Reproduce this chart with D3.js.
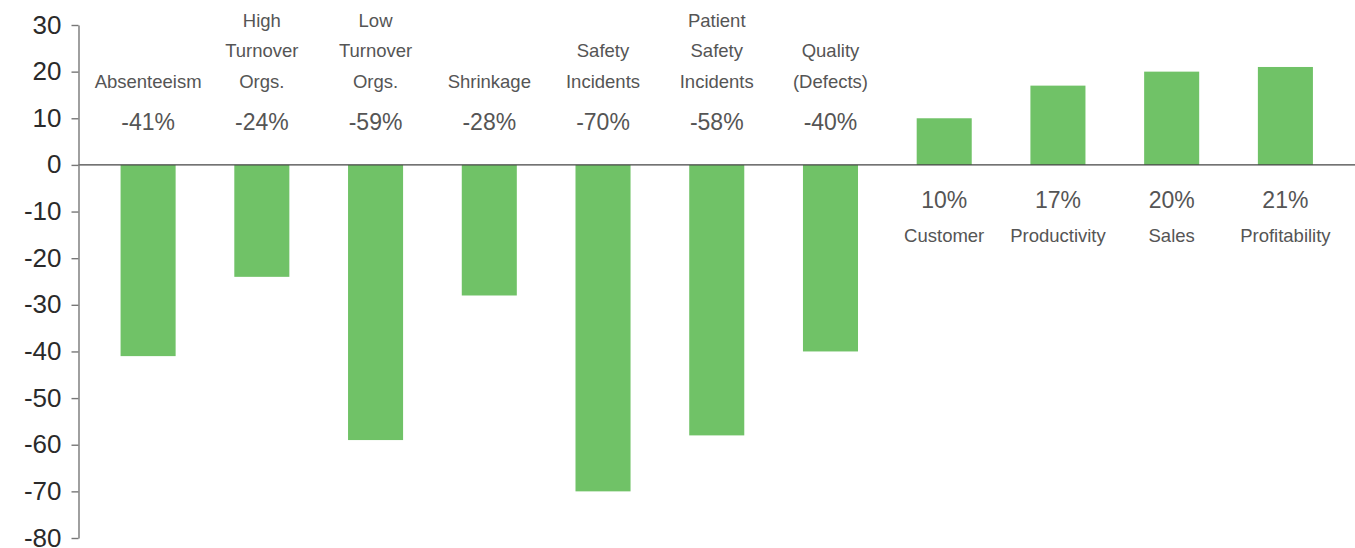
<!DOCTYPE html>
<html>
<head>
<meta charset="utf-8">
<script src="https://cdn.jsdelivr.net/npm/d3@7"></script>
<style>
  body { margin: 0; background: #fff; }
  svg { display: block; font-family: "Liberation Sans", Arial, sans-serif; }
</style>
</head>
<body>
<div id="chart"></div>
<script>
const categories = [
  "Absenteeism",
  "High Turnover Orgs.",
  "Low Turnover Orgs.",
  "Shrinkage",
  "Safety Incidents",
  "Patient Safety Incidents",
  "Quality (Defects)",
  "Customer",
  "Productivity",
  "Sales",
  "Profitability"
];
const labelLines = [
  ["Absenteeism"],
  ["High", "Turnover", "Orgs."],
  ["Low", "Turnover", "Orgs."],
  ["Shrinkage"],
  ["Safety", "Incidents"],
  ["Patient", "Safety", "Incidents"],
  ["Quality", "(Defects)"],
  ["Customer"],
  ["Productivity"],
  ["Sales"],
  ["Profitability"]
];
const values = [-41, -24, -59, -28, -70, -58, -40, 10, 17, 20, 21];
const yTicks = [-80, -70, -60, -50, -40, -30, -20, -10, 0, 10, 20, 30];

const width = 1355;
const height = 548;
const margin = { top: 25, right: 0, bottom: 10, left: 78.5 };

const svg = d3.select("#chart")
  .append("svg")
  .attr("width", width)
  .attr("height", height);

const x = d3.scaleBand()
  .domain(categories)
  .range([margin.left, width - margin.right])
  .paddingInner(0.516)
  .paddingOuter(0.37);

const y = d3.scaleLinear()
  .domain([-80, 30])
  .range([height - margin.bottom, margin.top]);

// bars
svg.append("g")
  .attr("fill", "#70c267")
  .selectAll("rect")
  .data(values)
  .join("rect")
  .attr("x", (d, i) => x(categories[i]))
  .attr("width", x.bandwidth())
  .attr("y", d => y(Math.max(0, d)))
  .attr("height", d => Math.abs(y(d) - y(0)));

// zero line
svg.append("line")
  .attr("x1", margin.left)
  .attr("x2", width)
  .attr("y1", y(0))
  .attr("y2", y(0))
  .attr("stroke", "#444")
  .attr("stroke-width", 1.2);

// y axis (plain hyphen for negatives, like the original)
const yAxis = svg.append("g")
  .attr("transform", `translate(${margin.left},0)`)
  .call(d3.axisLeft(y)
    .tickValues(yTicks)
    .tickFormat(d => String(d))
    .tickSize(7)
    .tickSizeOuter(0)
    .tickPadding(10));
yAxis.select(".domain").attr("stroke", "#777").attr("stroke-width", 1.4);
yAxis.selectAll(".tick line").attr("stroke", "#777").attr("stroke-width", 1.4);
yAxis.selectAll(".tick text")
  .attr("fill", "#2a2a2a")
  .style("font-size", "26px")
  .attr("dy", "0.31em");

// category + percentage labels
const labels = svg.append("g")
  .attr("text-anchor", "middle")
  .attr("fill", "#555");

values.forEach((v, i) => {
  const cx = x(categories[i]) + x.bandwidth() / 2;
  const lines = labelLines[i];
  if (v < 0) {
    labels.append("text")
      .attr("x", cx)
      .attr("y", y(0) - 35)
      .style("font-size", "23px")
      .text(`${v}%`);
    lines.forEach((t, j) => {
      labels.append("text")
        .attr("x", cx)
        .attr("y", y(0) - 77 - (lines.length - 1 - j) * 30.7)
        .style("font-size", "18.5px")
        .text(t);
    });
  } else {
    labels.append("text")
      .attr("x", cx)
      .attr("y", y(0) + 43)
      .style("font-size", "23px")
      .text(`${v}%`);
    lines.forEach((t, j) => {
      labels.append("text")
        .attr("x", cx)
        .attr("y", y(0) + 77 + j * 30.7)
        .style("font-size", "18.5px")
        .text(t);
    });
  }
});
</script>
</body>
</html>
